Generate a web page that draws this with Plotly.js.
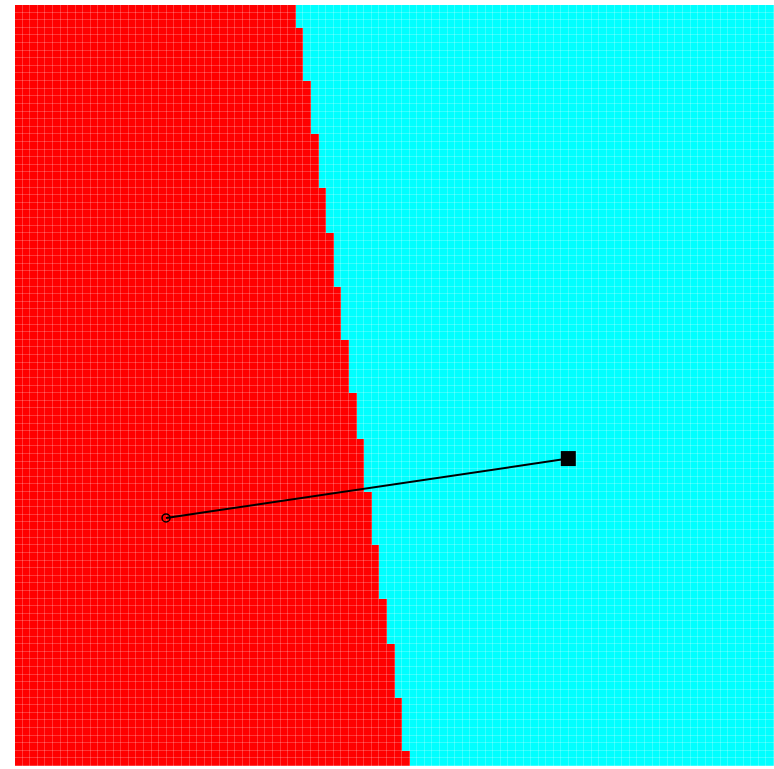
<!DOCTYPE html>
<html>
<head>
<meta charset="utf-8">
<script src="https://cdn.plot.ly/plotly-3.0.1.min.js"></script>
<style>html,body{margin:0;padding:0;background:#fff;}#chart{width:774px;height:769px;}</style>
</head>
<body>
<div id="chart"></div>
<script>
// Decision regions: number of red cells at the left of each row (top row first), and how many rows share it
var redCellsPerRun = [37, 38, 39, 40, 41, 42, 43, 44, 45, 46, 47, 48, 49, 50, 51, 52];
var rowsPerRun     = [ 3,  7,  7,  7,  6,  7,  7,  7,  6,  7,  7,  7,  6,  7,  7,  2];
var gridSize = 100;

// Two points joined by a segment
var pointX = [19.9, 72.9];
var pointY = [32.6, 40.4];

// Build the heatmap table (rows from bottom to top)
var rowsTopDown = [];
for (var r = 0; r < redCellsPerRun.length; r++) {
  for (var k = 0; k < rowsPerRun[r]; k++) {
    var row = [];
    for (var c = 0; c < gridSize; c++) row.push(c < redCellsPerRun[r] ? 0 : 1);
    rowsTopDown.push(row);
  }
}
var z = rowsTopDown.slice().reverse();
var cx = [], cy = [];
for (var i = 0; i < gridSize; i++) { cx.push(i + 0.5); cy.push(i + 0.5); }

var traces = [
  {
    type: 'heatmap', x: cx, y: cy, z: z,
    colorscale: [[0, '#ff0000'], [1, '#00ffff']],
    zmin: 0, zmax: 1, showscale: false, xgap: 0.22, ygap: 0.22, hoverinfo: 'skip'
  },
  {
    type: 'scatter', mode: 'lines', x: pointX, y: pointY,
    line: {color: '#000000', width: 2}, hoverinfo: 'skip', showlegend: false
  },
  {
    type: 'scatter', mode: 'markers', x: [pointX[0]], y: [pointY[0]],
    marker: {symbol: 'circle-open', size: 8, color: '#000000', line: {width: 1.5, color: '#000000'}},
    showlegend: false
  },
  {
    type: 'scatter', mode: 'markers', x: [pointX[1]], y: [pointY[1]],
    marker: {symbol: 'square', size: 15, color: '#000000'},
    showlegend: false
  }
];

var layout = {
  width: 774, height: 769,
  margin: {l: 15, r: 0, t: 5, b: 3, pad: 0},
  paper_bgcolor: '#ffffff', plot_bgcolor: '#ffffff',
  showlegend: false,
  xaxis: {range: [0, 100], showticklabels: false, ticks: '', showgrid: false, zeroline: false, showline: false},
  yaxis: {range: [0, 100], showticklabels: false, ticks: '', showgrid: false, zeroline: false, showline: false}
};

Plotly.newPlot('chart', traces, layout, {displayModeBar: false, staticPlot: true});
</script>
</body>
</html>
